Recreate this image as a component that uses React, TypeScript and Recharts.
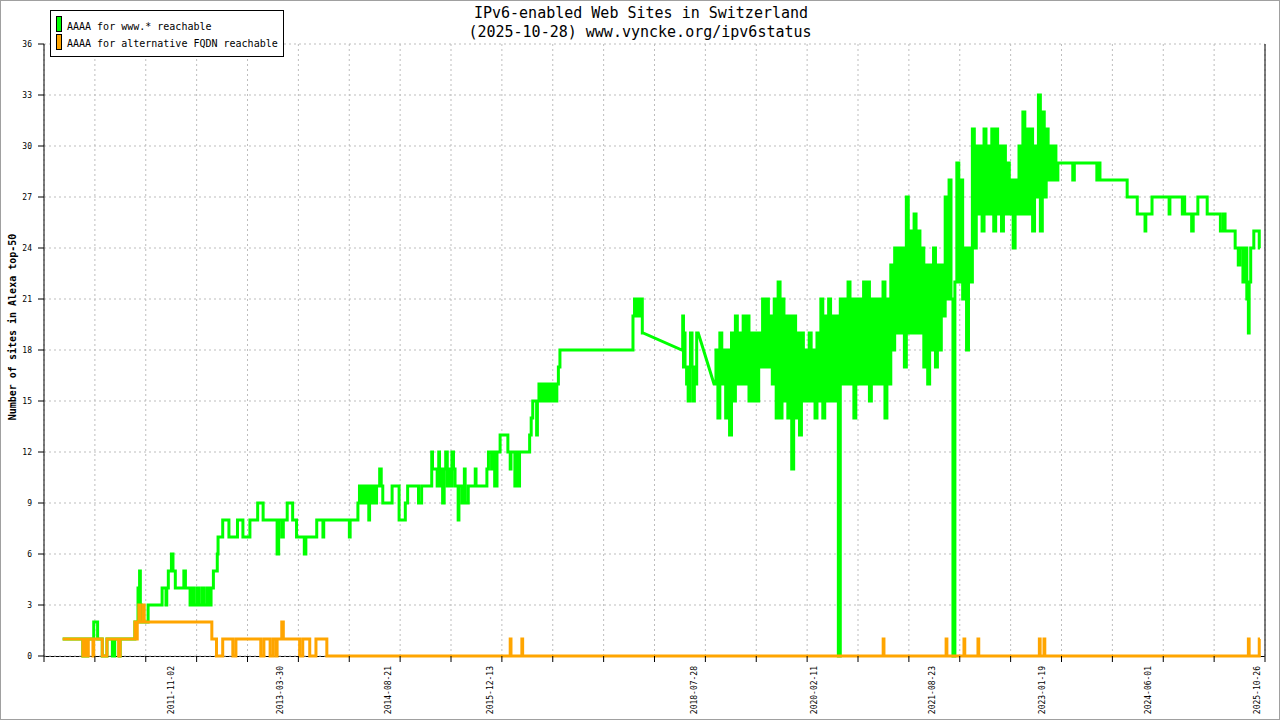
import React from 'react'
import { LineChart, Line, XAxis, YAxis, CartesianGrid } from 'recharts'

const MONO = "'DejaVu Sans Mono', 'Liberation Mono', monospace"

const TITLE = 'IPv6-enabled Web Sites in Switzerland'
const SUBTITLE = '(2025-10-28) www.vyncke.org/ipv6status'
const Y_LABEL = 'Number of sites in Alexa top-50'

const SERIES_NAMES = ['AAAA for www.* reachable', 'AAAA for alternative FQDN reachable']
const SERIES_COLORS = ['#00ff00', '#ffa500']

const Y_TICKS = [0, 3, 6, 9, 12, 15, 18, 21, 24, 27, 30, 33, 36]
const X_LABEL_DATES = [
  '2011-11-02', '2013-03-30', '2014-08-21', '2015-12-13', '2018-07-28',
  '2020-02-11', '2021-08-23', '2023-01-19', '2024-06-01', '2025-10-26',
]

// x axis in decimal years
const X_START = 2010.2
const X_END = 2025.914
const X_GRID_STEPS = 24

type Run = [number, number] // [decimal year, sites] - value holds until the next entry

// www.* reachable, 2010 - 2017
const www2010to2017: Run[] = [
  [2010.44, 1], [2010.70, 0], [2010.72, 1], [2010.75, 0], [2010.76, 1], [2010.84, 2], [2010.89, 1],
  [2010.95, 0], [2011.01, 1], [2011.08, 0], [2011.11, 1], [2011.17, 0], [2011.18, 1], [2011.37, 2],
  [2011.41, 4], [2011.43, 5], [2011.44, 3], [2011.45, 2], [2011.54, 3], [2011.72, 4], [2011.77, 3],
  [2011.78, 4], [2011.80, 5], [2011.84, 6], [2011.86, 5], [2011.89, 4], [2012.00, 5], [2012.02, 4],
  [2012.08, 3], [2012.11, 4], [2012.13, 3], [2012.17, 4], [2012.19, 3], [2012.23, 4], [2012.26, 3],
  [2012.30, 4], [2012.32, 3], [2012.35, 4], [2012.38, 5], [2012.43, 6], [2012.44, 7], [2012.50, 8],
  [2012.58, 7], [2012.69, 8], [2012.76, 7], [2012.85, 8], [2012.95, 9], [2013.02, 8], [2013.20, 6],
  [2013.22, 8], [2013.26, 7], [2013.28, 8], [2013.33, 9], [2013.40, 8], [2013.45, 7], [2013.55, 6],
  [2013.57, 7], [2013.71, 8], [2013.79, 7], [2013.80, 8], [2014.13, 7], [2014.14, 8], [2014.24, 9],
  [2014.26, 10], [2014.28, 9], [2014.30, 10], [2014.32, 9], [2014.34, 10], [2014.36, 9], [2014.38, 8],
  [2014.39, 10], [2014.42, 9], [2014.44, 10], [2014.46, 9], [2014.48, 10], [2014.52, 11], [2014.54, 10],
  [2014.56, 9], [2014.68, 10], [2014.77, 8], [2014.85, 9], [2014.88, 10], [2015.02, 9], [2015.06, 10],
  [2015.19, 12], [2015.20, 11], [2015.26, 10], [2015.28, 12], [2015.29, 10], [2015.31, 11], [2015.33, 9],
  [2015.35, 11], [2015.37, 12], [2015.39, 10], [2015.41, 11], [2015.43, 10], [2015.45, 12], [2015.47, 11],
  [2015.49, 10], [2015.53, 8], [2015.54, 10], [2015.58, 9], [2015.61, 11], [2015.62, 9], [2015.66, 10],
  [2015.75, 11], [2015.76, 10], [2015.90, 11], [2015.92, 12], [2015.96, 11], [2015.98, 12], [2016.00, 10],
  [2016.03, 12], [2016.07, 13], [2016.17, 12], [2016.20, 11], [2016.21, 12], [2016.26, 10], [2016.28, 12],
  [2016.30, 10], [2016.32, 12], [2016.45, 13], [2016.47, 14], [2016.49, 15], [2016.54, 13], [2016.55, 15],
  [2016.57, 16], [2016.59, 15], [2016.61, 16], [2016.63, 15], [2016.65, 16], [2016.68, 15], [2016.70, 16],
  [2016.73, 15], [2016.75, 16], [2016.78, 15], [2016.80, 16], [2016.82, 17], [2016.84, 18], [2017.78, 20],
  [2017.80, 21], [2017.82, 20], [2017.84, 21], [2017.86, 20], [2017.88, 21], [2017.90, 19], [2017.91, 19],
]

// www.* reachable, mid 2018 (gaps before and after are joined by straight lines)
const www2018: Run[] = [
  [2018.41, 18], [2018.42, 20], [2018.43, 17], [2018.44, 19], [2018.45, 17], [2018.47, 16], [2018.48, 17],
  [2018.49, 15], [2018.51, 17], [2018.52, 19], [2018.54, 17], [2018.55, 15], [2018.57, 17], [2018.58, 16],
  [2018.60, 19], [2018.62, 19],
]

// www.* reachable, daily noise late 2018 - early 2023, sampled every WWW_NOISE_STEP years
const WWW_NOISE_START = 2018.823
const WWW_NOISE_STEP = 0.025
const wwwNoise = [
  16, 18, 14, 19, 16, 18, 14, 18, 13, 19,
  15, 20, 16, 19, 16, 20, 16, 20, 15, 19,
  15, 19, 15, 19, 17, 21, 17, 21, 17, 20,
  16, 21, 14, 22, 14, 21, 15, 20, 14, 20,
  11, 20, 14, 19, 13, 19, 15, 18, 15, 19,
  15, 18, 14, 19, 15, 21, 14, 20, 15, 21,
  15, 20, 15, 20, 0, 21, 16, 21, 16, 22,
  16, 21, 14, 21, 16, 21, 16, 22, 16, 22,
  15, 21, 16, 21, 16, 21, 16, 22, 14, 21,
  16, 23, 18, 24, 19, 24, 19, 24, 17, 27,
  19, 25, 19, 26, 19, 25, 19, 24, 17, 23,
  16, 23, 18, 24, 17, 23, 18, 23, 20, 27,
  21, 28, 21, 0, 22, 29, 22, 28, 21, 24,
  18, 24, 22, 31, 24, 30, 26, 30, 25, 31,
  26, 30, 26, 31, 25, 31, 26, 30, 25, 30,
  26, 29, 26, 28, 24, 28, 26, 30, 26, 32,
  26, 31, 26, 31, 25, 30, 27, 33, 25, 32,
  27, 31, 28, 30, 28, 30, 28, 29,
]

// www.* reachable, 2023 - 2025
const www2023to2025: Run[] = [
  [2023.27, 29], [2023.44, 28], [2023.46, 29], [2023.75, 28], [2023.77, 29], [2023.79, 28], [2024.14, 27],
  [2024.27, 26], [2024.37, 25], [2024.38, 26], [2024.46, 27], [2024.68, 26], [2024.69, 27], [2024.85, 26],
  [2024.86, 27], [2024.88, 26], [2024.97, 25], [2024.99, 26], [2025.05, 27], [2025.17, 26], [2025.34, 25],
  [2025.38, 26], [2025.40, 25], [2025.53, 24], [2025.57, 23], [2025.59, 24], [2025.63, 22], [2025.65, 24],
  [2025.68, 21], [2025.70, 19], [2025.71, 22], [2025.73, 24], [2025.77, 25], [2025.84, 24], [2025.85, 24],
]

// alternative FQDN reachable
const alt: Run[] = [
  [2010.44, 1], [2010.70, 0], [2010.72, 1], [2010.75, 0], [2010.77, 1], [2010.83, 0], [2010.84, 1],
  [2010.95, 0], [2011.01, 1], [2011.16, 0], [2011.18, 1], [2011.37, 2], [2011.39, 1], [2011.40, 2],
  [2011.42, 3], [2011.44, 2], [2011.48, 3], [2011.49, 2], [2012.36, 1], [2012.42, 0], [2012.50, 1],
  [2012.63, 0], [2012.67, 1], [2012.99, 0], [2013.03, 1], [2013.11, 0], [2013.15, 1], [2013.19, 0],
  [2013.20, 1], [2013.26, 2], [2013.28, 1], [2013.49, 0], [2013.53, 1], [2013.62, 0], [2013.70, 1],
  [2013.84, 0], [2016.20, 1], [2016.21, 0], [2016.35, 1], [2016.36, 0], [2021.00, 1], [2021.01, 0],
  [2021.81, 1], [2021.82, 0], [2022.04, 1], [2022.05, 0], [2022.22, 1], [2022.23, 0], [2023.01, 1],
  [2023.02, 0], [2023.07, 1], [2023.08, 0], [2025.70, 1], [2025.71, 0], [2025.84, 1], [2025.85, 1],
]

type Pt = { x: number; y: number }

// a run list drawn as steps (vertical changes, like daily data)
const steps = (runs: Run[]): Pt[] => {
  const pts: Pt[] = []
  runs.forEach(([x, y], i) => {
    pts.push({ x, y })
    if (i < runs.length - 1) pts.push({ x: runs[i + 1][0], y })
  })
  return pts
}

const noiseRuns: Run[] = wwwNoise.map((v, i) => [WWW_NOISE_START + i * WWW_NOISE_STEP, v])

const wwwPoints = [
  ...steps(www2010to2017),
  ...steps(www2018),
  ...steps([...noiseRuns, ...www2023to2025]),
]
const altPoints = steps(alt)

const toYear = (d: string) => {
  const [y, m, day] = d.split('-').map(Number)
  const start = Date.UTC(y, 0, 1)
  const next = Date.UTC(y + 1, 0, 1)
  return y + (Date.UTC(y, m - 1, day) - start) / (next - start)
}

const X_LABEL_YEARS = X_LABEL_DATES.map(toYear)
const X_GRID_TICKS = Array.from(
  { length: X_GRID_STEPS + 1 },
  (_, i) => X_START + (i * (X_END - X_START)) / X_GRID_STEPS,
)

const DateTick = (props: any) => {
  const { x, payload } = props
  const i = X_LABEL_YEARS.findIndex((v) => Math.abs(v - payload.value) < 1e-6)
  const y = 666
  return (
    <text
      x={x}
      y={y}
      transform={`rotate(-90 ${x} ${y})`}
      textAnchor="end"
      dominantBaseline="central"
      fontSize={8}
      fontFamily={MONO}
      fill="#000"
    >
      {X_LABEL_DATES[i] ?? ''}
    </text>
  )
}

export default function App() {
  return (
    <div style={{ position: 'relative', width: 1280, height: 720, background: '#fff' }}>
      <style>{'body{margin:0}'}</style>
      {/* bottom border sits under the series, so the orange 0 line stays on top */}
      <svg width={1280} height={720} style={{ position: 'absolute', left: 0, top: 0 }}>
        <line x1={44} y1={656.5} x2={1265} y2={656.5} stroke="#000" />
      </svg>
      <LineChart width={1280} height={720} margin={{ top: 44, right: 14, bottom: 62, left: 0 }}>
        <CartesianGrid xAxisId="g" stroke="#bdbdbd" strokeDasharray="2 3" />
        <XAxis
          xAxisId="g"
          type="number"
          dataKey="x"
          domain={[X_START, X_END]}
          allowDataOverflow
          ticks={X_GRID_TICKS}
          interval={0}
          height={1}
          tick={() => <g />}
          tickSize={6}
          tickLine={{ stroke: '#000' }}
          axisLine={false}
        />
        <XAxis
          xAxisId="l"
          type="number"
          dataKey="x"
          domain={[X_START, X_END]}
          allowDataOverflow
          ticks={X_LABEL_YEARS}
          interval={0}
          height={1}
          tick={DateTick}
          tickLine={false}
          axisLine={false}
        />
        <YAxis
          type="number"
          domain={[0, 36]}
          ticks={Y_TICKS}
          interval={0}
          width={44}
          tickSize={6}
          tickMargin={6}
          tick={{ fill: '#000', fontSize: 8, fontFamily: MONO }}
          tickLine={{ stroke: '#000' }}
          axisLine={{ stroke: '#000' }}
        />
        <YAxis
          yAxisId="r"
          orientation="right"
          type="number"
          domain={[0, 36]}
          width={1}
          tick={false}
          tickLine={false}
          axisLine={{ stroke: '#000' }}
        />
        <Line
          xAxisId="g"
          data={wwwPoints}
          dataKey="y"
          name={SERIES_NAMES[0]}
          type="linear"
          stroke={SERIES_COLORS[0]}
          strokeWidth={3}
          strokeLinejoin="miter"
          dot={false}
          activeDot={false}
          isAnimationActive={false}
        />
        <Line
          xAxisId="l"
          data={altPoints}
          dataKey="y"
          name={SERIES_NAMES[1]}
          type="linear"
          stroke={SERIES_COLORS[1]}
          strokeWidth={3}
          strokeLinejoin="miter"
          dot={false}
          activeDot={false}
          isAnimationActive={false}
        />
      </LineChart>
      <svg
        width={1280}
        height={720}
        style={{ position: 'absolute', left: 0, top: 0, pointerEvents: 'none' }}
      >
        <text x={641} y={18} textAnchor="middle" fontSize={15} fontFamily={MONO} fill="#000">
          {TITLE}
        </text>
        <text x={640} y={37} textAnchor="middle" fontSize={15} fontFamily={MONO} fill="#000">
          {SUBTITLE}
        </text>
        <text
          x={12.5}
          y={327}
          transform="rotate(-90 12.5 327)"
          textAnchor="middle"
          dominantBaseline="central"
          fontSize={10}
          fontWeight="bold"
          fontFamily={MONO}
          fill="#000"
        >
          {Y_LABEL}
        </text>
        <rect x={50.5} y={10.5} width={233} height={46} fill="#fff" stroke="#000" />
        {SERIES_NAMES.map((name, i) => (
          <g key={name}>
            <rect x={56.5} y={16.5 + i * 18} width={5} height={15} fill={SERIES_COLORS[i]} stroke="#000" />
            <text x={67} y={29.5 + i * 17.5} fontSize={10} fontFamily={MONO} fill="#000">
              {name}
            </text>
          </g>
        ))}
        <rect x={0.5} y={0.5} width={1279} height={719} fill="none" stroke="#a0a0a0" />
      </svg>
    </div>
  )
}
